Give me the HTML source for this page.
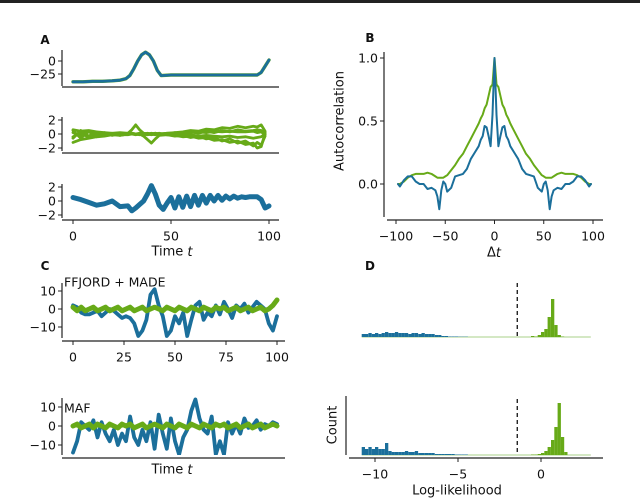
<!DOCTYPE html>
<html><head><meta charset="utf-8">
<style>
html,body{margin:0;padding:0;background:#fff;}
svg{display:block;font-family:"DejaVu Sans","Liberation Sans",sans-serif;}
.tk{font-size:12.5px;fill:#111;}
.lb{font-size:13px;fill:#111;}
.pl{font-size:12px;font-weight:bold;fill:#111;}
</style></head>
<body>
<svg id="fig" width="640" height="501" viewBox="0 0 640 501" xmlns="http://www.w3.org/2000/svg">
<rect x="0" y="0" width="640" height="501" fill="#fff"/>
<rect x="0" y="0" width="640" height="3" fill="#222"/>
<g id="root"></g>
</svg>
<script>
// ---------- DATA ----------
const a1T = [0,5,10,15,20,24,27,29,31,33,35,37,39,41,43,45,50,60,70,80,90,94,96,98,100];
const a1V = [-40,-40,-39,-39,-38,-37,-34,-28,-15,0,12,17,12,0,-18,-28,-27,-27,-27,-27,-27,-27,-22,-10,2];
const a2T = [0,4,8,12,16,20,24,28,30,32,34,36,38,40,42,44,48,52,56,60,64,68,72,76,80,84,88,92,94,96,98];
const a2S1 = [0.6,0.4,0.5,0.3,0.2,0.1,0.2,0.1,0.6,1.3,0.6,0.1,0.0,0.1,0.0,0.0,0.1,0.2,0.3,0.5,0.4,0.7,0.6,0.9,0.8,1.1,0.9,1.1,1.0,1.3,0.4];
const a2S2 = [-1.2,-0.8,-0.6,-0.4,-0.3,-0.1,-0.2,0.0,0.0,-0.1,0.0,-0.3,-0.8,-1.3,-0.7,-0.2,-0.1,-0.2,-0.4,-0.3,-0.6,-0.5,-0.9,-0.8,-1.2,-1.0,-1.5,-1.3,-2.0,-1.8,0.1];
const a2S3 = [0.2,-0.3,0.3,-0.2,0.1,-0.1,0.0,0.1,0.0,0.0,-0.1,0.0,0.1,0.0,0.1,0.0,0.0,0.2,0.0,0.3,0.1,0.4,0.2,0.5,0.3,0.6,0.4,0.5,0.6,0.5,0.2];
const a2S4 = [-0.4,0.2,-0.5,0.1,-0.2,0.0,-0.1,-0.1,0.0,0.0,0.1,0.0,-0.1,0.0,-0.1,0.0,-0.1,-0.3,-0.2,-0.5,-0.3,-0.7,-0.5,-1.0,-0.7,-1.3,-1.0,-1.7,-1.2,-1.6,-0.3];
const a2S5 = [0.5,-0.6,0.4,-0.4,0.2,-0.2,0.1,0.0,0.1,0.0,0.0,0.1,0.0,-0.1,0.0,0.1,-0.1,0.0,-0.2,-0.1,-0.3,-0.2,-0.3,-0.4,-0.3,-0.5,-0.4,-0.6,-0.5,-0.4,0.0];
const a2S6 = [-0.6,0.5,-0.3,0.3,-0.1,0.1,-0.2,0.0,0.1,0.0,0.0,-0.1,0.0,0.0,0.1,0.0,0.1,0.1,0.2,0.2,0.3,0.2,0.4,0.3,0.4,0.3,0.3,0.4,0.2,0.3,-0.1];
const a3T = [0,4,8,12,16,20,24,28,30,32,34,36,38,40,42,44,46,48,50,52,54,56,58,60,62,64,66,68,70,72,74,76,78,80,82,84,86,88,90,92,94,96,98,100];
const a3V = [0.5,0.2,-0.2,-0.6,-0.4,0.0,-0.8,-0.7,-1.4,-1.0,-0.5,0.0,1.0,2.2,1.0,-0.6,-1.2,-0.3,0.5,-1.0,0.6,-0.9,0.7,-0.8,0.8,-0.6,0.8,-0.3,0.8,0.0,0.8,0.1,0.7,0.3,0.7,0.4,0.6,0.5,0.6,0.6,0.6,0.2,-1.0,-0.7];
const bLags = [0,2,4,6,8,10,12,14,16,20,24,28,32,36,40,44,48,50,52,54,56,58,60,64,68,72,76,80,84,88,92,96,98];
const bGreen = [1.0,0.79,0.77,0.7,0.63,0.6,0.55,0.52,0.48,0.42,0.36,0.3,0.24,0.2,0.15,0.11,0.07,0.06,0.05,0.05,0.05,0.05,0.06,0.08,0.09,0.08,0.08,0.08,0.07,0.05,0.02,0.0,0.0];
const bBlue = [1.0,0.55,0.3,0.38,0.45,0.46,0.38,0.35,0.3,0.25,0.2,0.12,0.08,0.07,0.06,-0.03,-0.06,0.0,0.02,-0.05,-0.2,-0.1,-0.05,-0.03,-0.04,0.0,0.0,0.02,0.06,0.06,0.03,-0.02,0.0];
const cT = [0,2,4,6,8,10,12,14,16,18,20,22,24,26,28,30,32,34,36,38,40,42,44,46,48,50,52,54,56,58,60,62,64,66,68,70,72,74,76,78,80,82,84,86,88,90,92,94,96,98,100];
const cTopBlue = [2,1,-2,-3,-3,-2,-1,-4,-2,0,-1,-3,-5,-4,-5,-8,-15,-12,-6,8,11,2,-4,-15,-12,-4,-8,-2,-15,-6,2,4,-6,-2,-4,2,-3,4,0,-5,2,0,3,-2,1,4,2,0,-8,-12,-4];
const cTopGreen = [1,-1,1,-1,0,1,-1,0,1,-1,0,1,-1,0,1,-1,0,1,-1,0,1,0,-1,1,0,-1,1,0,-1,1,0,-1,1,0,-1,1,0,1,-1,0,1,-1,0,1,-1,0,1,-1,0,2,5];
const cBotBlue = [-14,-8,2,0,-2,3,-6,2,-4,-8,-2,-10,-4,-8,5,-6,-10,-2,-8,2,-12,6,-4,-12,4,-8,-15,-6,-2,8,14,4,-2,-4,5,-15,-8,-15,2,-4,1,-4,4,-1,0,3,-2,1,0,2,1];
const cBotGreen = [0,1,-1,0,1,-1,1,0,-1,1,0,-1,1,0,1,-1,0,1,-1,0,1,0,-1,1,0,-1,1,0,-1,1,0,-1,1,0,-1,1,0,1,-1,0,1,-1,0,1,-1,0,1,-1,0,1,0];
const dBlueBins = [-10.7,-10.5,-10.3,-10.1,-9.9,-9.7,-9.5,-9.3,-9.1,-8.9,-8.7,-8.5,-8.3,-8.1,-7.9,-7.7,-7.5,-7.3,-7.1,-6.9,-6.7,-6.5,-6.3,-6.1,-5.9,-5.7,-5.5,-5.3,-5.1,-4.9,-4.7,-4.5];
const dTopBlue = [3,3,4,3,4,3,4,5,4,4,5,4,4,4,3,4,4,3,4,3,3,3,2,2,1,1,0.5,0.5,0.5,0.3,0.3,0.3];
const dBotBlue = [8,6,8,6,8,6,6,12,4,3,3,3,3,4,3,3,4,2,2,2,2,2,1,1,1,1,1,1,0.5,0.5,0.5,0.5];
const dGreenBins = [-0.5,-0.3,-0.1,0.1,0.3,0.5,0.7,0.9,1.1,1.3,1.5];
const dTopGreen = [1,0.5,2,5,8,20,38,12,2,0.5,0];
const dBotGreen = [0.5,0.5,1,2,4,8,15,28,52,18,3];
const dThreshold = -1.43;

// ---------- DRAW ----------
const NS = "http://www.w3.org/2000/svg";
const root = document.getElementById('root');
const BLUE = "#1b6f9b", GREEN = "#67aa18";
function mk(tag, attrs, parent){
  const e = document.createElementNS(NS, tag);
  for (const k in attrs) e.setAttribute(k, attrs[k]);
  (parent||root).appendChild(e);
  return e;
}
function txt(x,y,s,cls,anchor,parent){
  const t = mk('text',{x:x,y:y,'class':cls,'text-anchor':anchor||'middle','dominant-baseline':'central'},parent);
  t.textContent = s;
  return t;
}
function lin(d0,d1,p0,p1){ return v => p0 + (v-d0)*(p1-p0)/(d1-d0); }
function poly(xs, ys, sx, sy, color, w, name, clipId){
  const pts = xs.map((x,i)=>sx(x).toFixed(1)+','+sy(ys[i]).toFixed(1)).join(' ');
  const p = mk('polyline',{points:pts,fill:'none',stroke:color,'stroke-width':w,'stroke-linejoin':'round','stroke-linecap':'round'});
  if (clipId) p.setAttribute('clip-path','url(#'+clipId+')');
  
  
  return p;
}
function yAxis(x, y0, y1, ticks, sy, name){
  const g = mk('g',{});
  
  
  mk('line',{x1:x,y1:y0,x2:x,y2:y1,stroke:'#222','stroke-width':1.2},g);
  ticks.forEach(t=>{
    const y = sy(t);
    mk('line',{x1:x-4,y1:y,x2:x,y2:y,stroke:'#222','stroke-width':1},g);
    txt(x-6,y,String(t).replace('-','\u2212'),'tk','end',g);
  });
}
function xAxis(y, x0, x1, ticks, sx, labels, name){
  const g = mk('g',{});
  
  
  mk('line',{x1:x0,y1:y,x2:x1,y2:y,stroke:'#222','stroke-width':1.2},g);
  ticks.forEach(t=>{
    const x = sx(t);
    mk('line',{x1:x,y1:y,x2:x,y2:y+4,stroke:'#222','stroke-width':1},g);
    if (labels) txt(x,y+16,String(t).replace('-','\u2212'),'tk','middle',g);
  });
}
const defs = mk('defs',{});
function clip(id,x,y,w,h){ const c = mk('clipPath',{id:id},defs); mk('rect',{x:x,y:y,width:w,height:h},c); }

[['A',45,40],['B',370,38],['C',45,266],['D',370,266]].forEach(l=>{
  const t = txt(l[1],l[2],l[0],'pl','middle');
  
  
});

// ---- Panel A ----
const sxA = lin(0,100,73,269);
const syA1 = lin(0,-25,61,74);
poly(a1T,a1V,sxA,syA1,GREEN,3.4,'a1-green-trace');
poly(a1T,a1V,sxA,syA1,BLUE,2.8,'a1-blue-trace');
yAxis(62,50,86,[0,-25],syA1,'a1-y-axis');
xAxis(87,62,279,[],sxA,false,'a1-x-axis');

const syA2 = lin(0,2,134,120);
[a2S1,a2S2,a2S3,a2S4,a2S5,a2S6].forEach((s,i)=>poly(a2T,s,sxA,syA2,GREEN,2.8,'a2-green-trace-'+(i+1)));
yAxis(62,117,151,[2,0,-2],syA2,'a2-y-axis');
xAxis(153,62,279,[],sxA,false,'a2-x-axis');

const syA3 = lin(0,2,201,187);
poly(a3T,a3V,sxA,syA3,BLUE,5,'a3-blue-trace');
yAxis(62,184,218,[2,0,-2],syA3,'a3-y-axis');
xAxis(220,62,279,[0,50,100],sxA,true,'a3-x-axis');
let t = txt(172,252,'','lb','middle');
t.innerHTML = 'Time <tspan font-style="italic">t</tspan>';



// ---- Panel B ----
const sxB = lin(-100,100,396,593);
const syB = lin(0,1,184,58);
const fullX = [], fullG = [], fullBl = [];
for (let i=bLags.length-1;i>0;i--){ fullX.push(-bLags[i]); fullG.push(bGreen[i]); fullBl.push(bBlue[i]); }
for (let i=0;i<bLags.length;i++){ fullX.push(bLags[i]); fullG.push(bGreen[i]); fullBl.push(bBlue[i]); }
poly(fullX,fullG,sxB,syB,GREEN,2,'b-green-autocorr');
poly(fullX,fullBl,sxB,syB,BLUE,2,'b-blue-autocorr');
yAxis(384,52,217,[1.0,0.5,0.0].map(v=>v.toFixed(1)),v=>syB(parseFloat(v)),'b-y-axis');
xAxis(220,387,603,[-100,-50,0,50,100],sxB,true,'b-x-axis');
t = txt(340,121,'Autocorrelation','lb','middle');
t.setAttribute('transform','rotate(-90 340 121)');


t = txt(494,253,'','lb','middle');
t.innerHTML = '\u0394<tspan font-style="italic">t</tspan>';



// ---- Panel C ----
const sxC = lin(0,100,73,277);
const syC1 = lin(0,10,309,291);
clip('cc1',62,270,230,68);
poly(cT,cTopBlue,sxC,syC1,BLUE,3.8,'c-ffjord-blue-trace','cc1');
poly(cT,cTopGreen,sxC,syC1,GREEN,5,'c-ffjord-green-trace','cc1');
yAxis(62,283,338,[10,0,-10],syC1,'c-ffjord-y-axis');
xAxis(341,62,285,[0,25,50,75,100],sxC,true,'c-ffjord-x-axis');
t = txt(64,282,'FFJORD + MADE','tk','start');



const syC2 = lin(0,10,426,407);
clip('cc2',62,395,230,60);
poly(cT,cBotBlue,sxC,syC2,BLUE,3.8,'c-maf-blue-trace','cc2');
poly(cT,cBotGreen,sxC,syC2,GREEN,5,'c-maf-green-trace','cc2');
yAxis(62,398,455,[10,0,-10],syC2,'c-maf-y-axis');
xAxis(458,62,285,[],sxC,false,'c-maf-x-axis');
t = txt(64,408,'MAF','tk','start');


t = txt(172,470,'','lb','middle');
t.innerHTML = 'Time <tspan font-style="italic">t</tspan>';



// ---- Panel D ----
const sxD = lin(0,-5,541,458);
const bw = 0.2*16.6;
function hist(bins, counts, base, color, name){
  bins.forEach((b,i)=>{
    const h = counts[i];
    const r = mk('rect',{x:(sxD(b)-bw/2).toFixed(1),y:(base-h).toFixed(1),width:bw.toFixed(1),height:h,fill:color});
    
    
  });
}
function dPanel(base, top, bCounts, gCounts, key){
  const bl = mk('line',{x1:sxD(-10.8),y1:base,x2:sxD(3),y2:base,stroke:'#a9d08a','stroke-width':1});
  
  
  hist(dBlueBins,bCounts,base,BLUE,'d-'+key+'-blue');
  hist(dGreenBins,gCounts,base,GREEN,'d-'+key+'-green');
  const dl = mk('line',{x1:sxD(dThreshold),y1:top,x2:sxD(dThreshold),y2:base,stroke:'#111','stroke-width':1.3,'stroke-dasharray':'4,3'});
  
  
}
dPanel(337,283,dTopBlue,dTopGreen,'ffjord');
dPanel(455,399,dBotBlue,dBotGreen,'maf');
const ya = mk('line',{x1:346,y1:396,x2:346,y2:455,stroke:'#222','stroke-width':1.2});


xAxis(458,349,603,[-10,-5,0],sxD,true,'d-x-axis');
t = txt(333,425,'Count','lb','middle');
t.setAttribute('transform','rotate(-90 333 425)');


t = txt(457,491,'Log-likelihood','lb','middle');


</script>
</body></html>
